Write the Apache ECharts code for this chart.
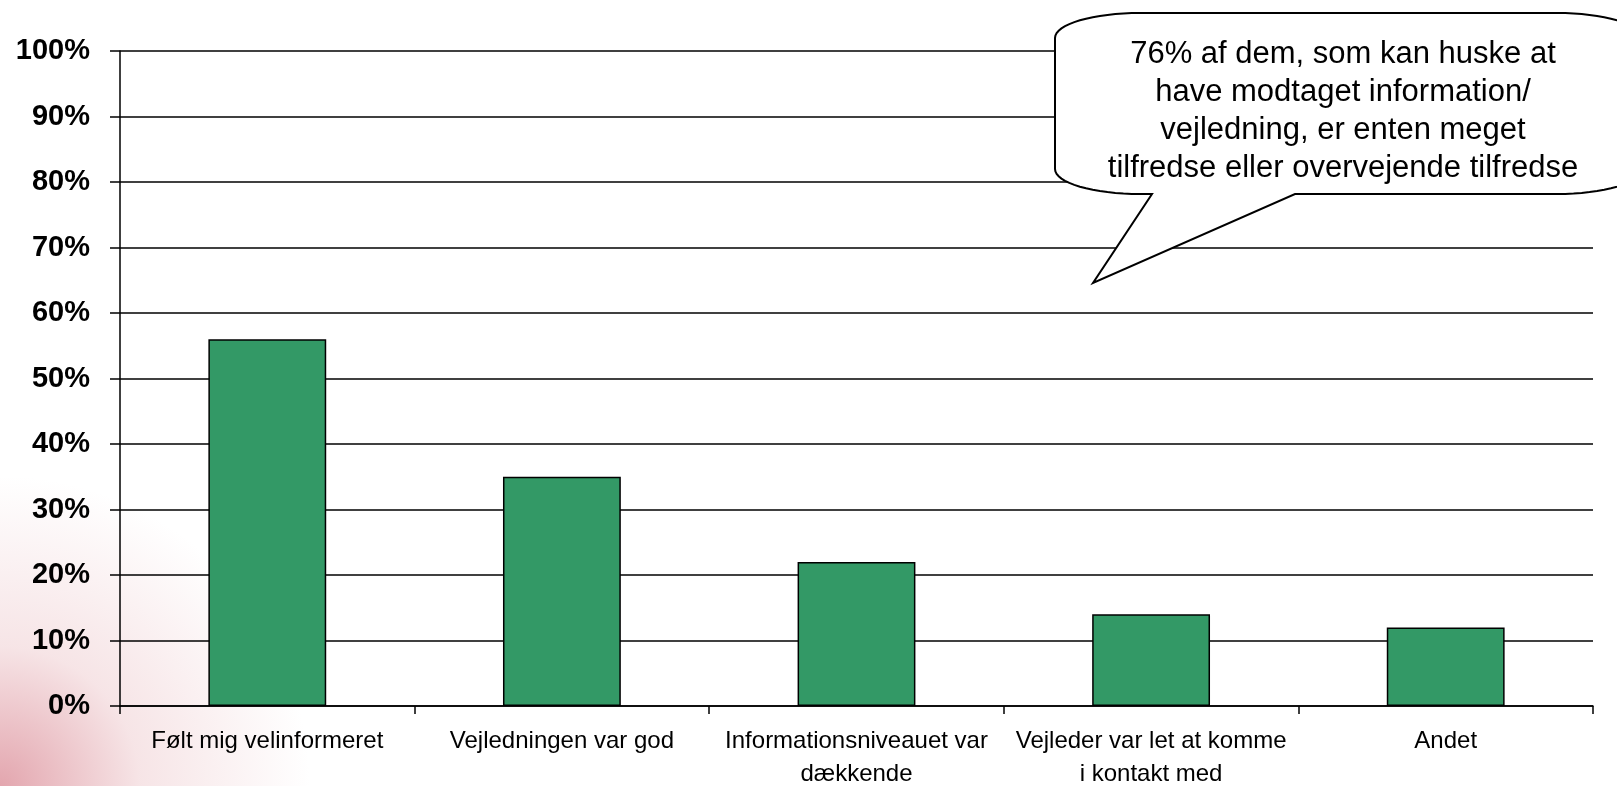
<!DOCTYPE html>
<html>
<head>
<meta charset="utf-8">
<script src="https://cdn.jsdelivr.net/npm/echarts@6/dist/echarts.min.js"></script>
<style>
    html, body {
        margin: 0;
        padding: 0;
        background: #fff;
    }
    #chart {
        width: 1617px;
        height: 786px;
        background: radial-gradient(circle 310px at 0px 786px, rgba(222, 150, 160, 0.85) 0%, rgba(236, 196, 200, 0.45) 45%, rgba(255, 255, 255, 0) 100%);
    }
</style>
</head>
<body>
<div id="chart"></div>
<script>
    // kategorier (x-akse)
    const categories = [
        "Følt mig velinformeret",
        "Vejledningen var god",
        "Informationsniveauet var\ndækkende",
        "Vejleder var let at komme\ni kontakt med",
        "Andet"
    ];
    // andel i procent
    const values = [56, 35, 22, 14, 12];
    // y-akse
    const yMin = 0;
    const yMax = 100;
    const yStep = 10;
    // taleboble
    const calloutLines = [
        "76% af dem, som kan huske at",
        "have modtaget information/",
        "vejledning, er enten meget",
        "tilfredse eller overvejende tilfredse"
    ];

    const font = "'Liberation Sans', Arial, sans-serif";

    // omrids af taleboblen: afrundet rektangel med elliptiske hjørner + spids
    function bubblePoints() {
        const x0 = 1055, x1 = 1642, y0 = 13, y1 = 194, rx = 85, ry = 25;
        const pts = [];
        function arc(cx, cy, a0, a1) {
            const n = 16;
            for (let i = 0; i <= n; i++) {
                const a = a0 + (a1 - a0) * i / n;
                pts.push([cx + rx * Math.cos(a), cy + ry * Math.sin(a)]);
            }
        }
        arc(x0 + rx, y0 + ry, Math.PI, Math.PI * 1.5);      // top-left
        arc(x1 - rx, y0 + ry, Math.PI * 1.5, Math.PI * 2);  // top-right
        arc(x1 - rx, y1 - ry, 0, Math.PI * 0.5);            // bottom-right
        pts.push([1295, y1], [1093, 283], [1152, y1]);       // spids
        arc(x0 + rx, y1 - ry, Math.PI * 0.5, Math.PI);      // bottom-left
        return pts;
    }

    const chart = echarts.init(document.getElementById("chart"));

    const option = {
        backgroundColor: "transparent",
        animation: false,
        grid: {
            left: 120,
            right: 24,
            top: 51,
            bottom: 80,
            containLabel: false,
            outerBoundsMode: "none"
        },
        xAxis: {
            type: "category",
            data: categories,
            axisLine: {
                lineStyle: { color: "#000", width: 1.5 }
            },
            axisTick: {
                show: true,
                length: 8,
                lineStyle: { color: "#000", width: 1.5 }
            },
            axisLabel: {
                interval: 0,
                margin: 19,
                color: "#000",
                fontFamily: font,
                fontSize: 24,
                lineHeight: 33,
                align: "center"
            }
        },
        yAxis: {
            type: "value",
            min: yMin,
            max: yMax,
            interval: yStep,
            axisLine: {
                show: true,
                lineStyle: { color: "#000", width: 1.5 }
            },
            axisTick: {
                show: true,
                length: 10,
                lineStyle: { color: "#000", width: 1.5 }
            },
            splitLine: {
                show: true,
                lineStyle: { color: "#000", width: 1.5 }
            },
            axisLabel: {
                margin: 30,
                color: "#000",
                fontFamily: font,
                fontWeight: "bold",
                fontSize: 29,
                formatter: "{value}%"
            }
        },
        series: [
            {
                type: "bar",
                data: values,
                barWidth: "40%",
                itemStyle: {
                    color: "#339966",
                    borderColor: "#000",
                    borderWidth: 1.5
                }
            }
        ],
        graphic: [
            {
                type: "polygon",
                z: 100,
                shape: {
                    points: bubblePoints()
                },
                style: {
                    fill: "#fff",
                    stroke: "#000",
                    lineWidth: 2
                }
            },
            {
                type: "text",
                z: 101,
                x: 1343,
                y: 111,
                style: {
                    text: calloutLines.join("\n"),
                    fill: "#000",
                    font: "31px " + font,
                    lineHeight: 38,
                    align: "center",
                    verticalAlign: "middle"
                }
            }
        ]
    };

    chart.setOption(option);
</script>
</body>
</html>
